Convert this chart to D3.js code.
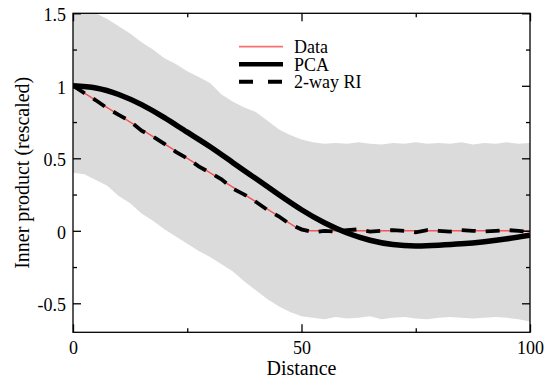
<!DOCTYPE html>
<html>
    <head>
        <title>Inner product vs distance</title>
        <script src="https://d3js.org/d3.v7.min.js"></script>
        <style>
            body { margin: 0; background: white; }
            svg { font-family: "Liberation Serif", "DejaVu Serif", serif; }
            .axis path, .axis line { stroke: black; stroke-width: 1.3; }
            .axis text { font-size: 18px; fill: black; font-family: "Liberation Serif", serif; }
            .title { font-size: 20px; }
            .legend text { font-size: 18px; }
        </style>
    </head>

    <body>
        <svg id="chart" width="551" height="379"></svg>

        <script>
            // distances at which the band and RI curve were read
            var dist = d3.range(0, 100.01, 2.5);

            var bandUpper = [1.62, 1.56, 1.50, 1.46, 1.41, 1.36, 1.30, 1.25, 1.19, 1.15,
                             1.10, 1.06, 1.02, 0.94, 0.89, 0.85, 0.82, 0.76, 0.70, 0.66,
                             0.63, 0.61, 0.60, 0.605, 0.60, 0.61, 0.60, 0.595, 0.605, 0.60,
                             0.61, 0.60, 0.605, 0.60, 0.61, 0.595, 0.605, 0.60, 0.61, 0.60, 0.605];

            var bandLower = [0.40, 0.39, 0.35, 0.31, 0.24, 0.19, 0.12, 0.07, 0.01, -0.04,
                             -0.09, -0.14, -0.18, -0.23, -0.28, -0.35, -0.41, -0.47, -0.52, -0.56,
                             -0.59, -0.60, -0.61, -0.595, -0.605, -0.60, -0.59, -0.61, -0.60, -0.595,
                             -0.605, -0.61, -0.60, -0.595, -0.60, -0.605, -0.60, -0.595, -0.60, -0.61, -0.625];

            var riValues = [1.0, 0.95, 0.90, 0.845, 0.80, 0.755, 0.69, 0.65, 0.60, 0.545,
                            0.50, 0.445, 0.40, 0.355, 0.29, 0.25, 0.20, 0.145, 0.10, 0.045,
                            0.01, -0.01, 0.0, -0.005, 0.005, 0.01, -0.005, 0.0, 0.005, 0.0,
                            -0.01, 0.005, 0.0, -0.005, 0.005, 0.0, -0.005, 0.0, 0.005, 0.0, -0.01];

            var dataDist = [0, 50, 100];
            var dataValues = [1, 0, 0];

            var pcaDist = [0, 5, 10, 15, 20, 25, 30, 35, 40, 45, 50, 55, 60, 65, 70, 75, 80, 85, 90, 95, 100];
            var pcaValues = [1, 0.985, 0.94, 0.87, 0.78, 0.68, 0.58, 0.47, 0.36, 0.25,
                             0.145, 0.055, -0.015, -0.065, -0.095, -0.105, -0.1, -0.09, -0.075, -0.055, -0.03];

            var xMajor = [0, 50, 100], xMinor = [25, 75];
            var yMajor = [-0.5, 0, 0.5, 1, 1.5], yMinor = [-0.25, 0.25, 0.75, 1.25];

            var svg = d3.select("#chart");
            var pLeft = 73, pRight = 530, pTop = 13.3, pBottom = 332.3;

            var x = d3.scaleLinear([0, 100], [pLeft, pRight]);
            var y = d3.scaleLinear([-0.7, 1.5], [pBottom, pTop]);

            svg.append("clipPath").attr("id", "clip")
                .append("rect")
                .attr("x", pLeft).attr("y", pTop)
                .attr("width", pRight - pLeft).attr("height", pBottom - pTop);

            var plot = svg.append("g").attr("clip-path", "url(#clip)");

            var band = d3.area()
                .x((d, i) => x(dist[i]))
                .y0((d, i) => y(bandLower[i]))
                .y1((d, i) => y(bandUpper[i]));

            plot.append("path")
                .datum(dist)
                .attr("d", band)
                .attr("fill", "#dbdbdb");

            var line = d3.line().x(d => x(d[0])).y(d => y(d[1]));

            plot.append("path")
                .datum(dataDist.map((d, i) => [d, dataValues[i]]))
                .attr("d", line)
                .attr("fill", "none")
                .attr("stroke", "#f25555")
                .attr("stroke-width", 1.5);

            plot.append("path")
                .datum(pcaDist.map((d, i) => [d, pcaValues[i]]))
                .attr("d", line.curve(d3.curveNatural))
                .attr("fill", "none")
                .attr("stroke", "black")
                .attr("stroke-width", 5.5);

            line.curve(d3.curveLinear);
            plot.append("path")
                .datum(dist.map((d, i) => [d, riValues[i]]))
                .attr("d", line)
                .attr("fill", "none")
                .attr("stroke", "black")
                .attr("stroke-width", 3.8)
                .attr("stroke-dasharray", "14,10");

            // axes, ticks pointing inward on all four sides
            var fmt = d => String(d);
            function addAxis(axis, tr, vals, size, labels, pad) {
                var g = svg.append("g").attr("class", "axis")
                    .attr("transform", tr)
                    .call(axis.tickValues(vals).tickSize(-size).tickPadding(pad)
                        .tickFormat(labels ? fmt : ""));
                return g;
            }
            addAxis(d3.axisBottom(x), "translate(0," + pBottom + ")", xMajor, 8, true, 9);
            addAxis(d3.axisBottom(x), "translate(0," + pBottom + ")", xMinor, 4, false, 0);
            addAxis(d3.axisTop(x), "translate(0," + pTop + ")", xMajor, 8, false, 0);
            addAxis(d3.axisTop(x), "translate(0," + pTop + ")", xMinor, 4, false, 0);
            addAxis(d3.axisLeft(y), "translate(" + pLeft + ",0)", yMajor, 8, true, 7)
                .selectAll("text").attr("dy", "0.42em");
            addAxis(d3.axisLeft(y), "translate(" + pLeft + ",0)", yMinor, 4, false, 0);
            addAxis(d3.axisRight(y), "translate(" + pRight + ",0)", yMajor, 8, false, 0);
            addAxis(d3.axisRight(y), "translate(" + pRight + ",0)", yMinor, 4, false, 0);

            svg.selectAll(".axis .domain").remove();
            svg.append("rect")
                .attr("x", pLeft).attr("y", pTop)
                .attr("width", pRight - pLeft).attr("height", pBottom - pTop)
                .attr("fill", "none").attr("stroke", "black").attr("stroke-width", 1.3);

            svg.append("text").attr("class", "title")
                .attr("x", (pLeft + pRight) / 2).attr("y", 375)
                .attr("text-anchor", "middle")
                .text("Distance");

            svg.append("text").attr("class", "title")
                .attr("transform", "translate(29," + (pTop + pBottom) / 2 + ") rotate(-90)")
                .attr("text-anchor", "middle")
                .text("Inner product (rescaled)");

            // legend
            var legendItems = [
                {name: "Data", color: "#f87070", width: 1.8, dash: null},
                {name: "PCA", color: "black", width: 4.5, dash: null},
                {name: "2-way RI", color: "black", width: 4, dash: "14,15"}
            ];
            var lg = svg.append("g").attr("class", "legend");
            legendItems.forEach(function (it, i) {
                var ly = 46.7 + i * 17.5;
                lg.append("line")
                    .attr("x1", 239).attr("x2", 283)
                    .attr("y1", ly).attr("y2", ly)
                    .attr("stroke", it.color)
                    .attr("stroke-width", it.width)
                    .attr("stroke-dasharray", it.dash);
                lg.append("text")
                    .attr("x", 294).attr("y", ly + 6.3)
                    .text(it.name);
            });
        </script>
    </body>
</html>
